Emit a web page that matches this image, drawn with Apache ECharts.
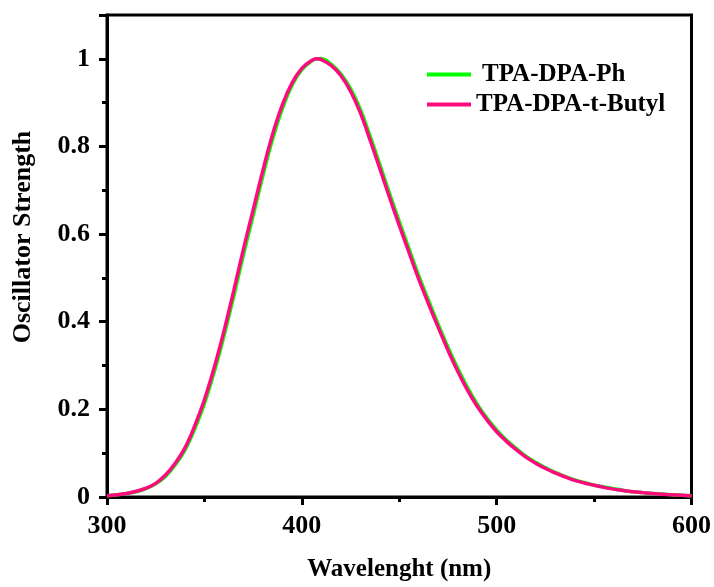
<!DOCTYPE html>
<html>
<head>
<meta charset="utf-8">
<script src="https://cdn.jsdelivr.net/npm/echarts@6/dist/echarts.min.js"></script>
<style>html,body{margin:0;padding:0;background:#fff}#c{width:714px;height:587px}</style>
</head>
<body>
<div id="c"></div>
<script>
var wavelengths = [300,305,310,315,320,325,330,335,340,345,350,355,360,365,370,375,380,385,390,395,400,405,408,410,415,420,425,430,435,440,445,450,455,460,465,470,475,480,485,490,495,500,505,510,515,520,525,530,535,540,545,550,555,560,565,570,575,580,585,590,595,600];
var tpaDpaPh = [0.003,0.005,0.008,0.012,0.019,0.030,0.047,0.073,0.107,0.155,0.213,0.285,0.367,0.457,0.552,0.642,0.733,0.817,0.886,0.940,0.975,0.995,1.0,1.0,0.988,0.966,0.932,0.885,0.824,0.759,0.693,0.629,0.567,0.505,0.449,0.394,0.342,0.294,0.250,0.212,0.180,0.153,0.130,0.111,0.093,0.079,0.067,0.056,0.047,0.039,0.033,0.027,0.023,0.019,0.015,0.012,0.010,0.008,0.007,0.005,0.004,0.003];
var tpaDpaTButyl = [0.003,0.005,0.008,0.013,0.020,0.031,0.050,0.077,0.112,0.162,0.222,0.295,0.378,0.470,0.565,0.655,0.745,0.828,0.895,0.945,0.978,0.996,1.0,0.998,0.985,0.962,0.926,0.877,0.815,0.750,0.684,0.620,0.558,0.497,0.441,0.387,0.335,0.287,0.244,0.207,0.176,0.149,0.127,0.108,0.091,0.077,0.065,0.055,0.046,0.038,0.032,0.027,0.022,0.018,0.015,0.012,0.010,0.008,0.0065,0.005,0.004,0.003];
var seriesNames = ['TPA-DPA-Ph','TPA-DPA-t-Butyl'];
var xTitle = 'Wavelenght (nm)';
var yTitle = 'Oscillator Strength';

function pairs(xs, ys){ return xs.map(function(x,i){ return [x, ys[i]]; }); }

var FONT = '"Liberation Serif","Times New Roman",serif';
var chart = echarts.init(document.getElementById('c'), null, {renderer:'canvas'});
chart.setOption({
  animation:false,
  backgroundColor:'#fff',
  grid:{left:107, right:22, top:15, bottom:87, show:true, borderColor:'#000', borderWidth:3, backgroundColor:'transparent'},
  legend:[
    {data:[seriesNames[0]], left:422, top:57, orient:'vertical', icon:'rect', itemWidth:44, itemHeight:4,
     textStyle:{fontFamily:FONT, fontWeight:'bold', fontSize:25, color:'#000', padding:[0,0,0,6]}},
    {data:[seriesNames[1]], left:422, top:87, orient:'vertical', icon:'rect', itemWidth:44, itemHeight:4,
     textStyle:{fontFamily:FONT, fontWeight:'bold', fontSize:25, color:'#000'}}
  ],
  xAxis:{
    type:'value', min:300, max:600, interval:100,
    name:xTitle, nameLocation:'middle', nameGap:60,
    nameTextStyle:{fontFamily:FONT, fontWeight:'bold', fontSize:25, color:'#000'},
    axisLine:{show:true, onZero:false, lineStyle:{color:'#000', width:3}},
    axisTick:{show:true, inside:false, length:8, lineStyle:{color:'#000', width:3}},
    minorTick:{show:true, splitNumber:2, length:5, lineStyle:{color:'#000', width:3}},
    axisLabel:{margin:16, fontFamily:FONT, fontWeight:'bold', fontSize:26, color:'#000'},
    splitLine:{show:false}
  },
  yAxis:{
    type:'value', min:0, max:1.1, interval:0.2,
    axisLine:{show:true, onZero:false, lineStyle:{color:'#000', width:3}},
    axisTick:{show:true, inside:false, length:8, lineStyle:{color:'#000', width:3}},
    minorTick:{show:true, splitNumber:2, length:5, lineStyle:{color:'#000', width:3}},
    axisLabel:{margin:17, fontFamily:FONT, fontWeight:'bold', fontSize:26, color:'#000', showMaxLabel:false,
      formatter:function(v){ return v>1.05 ? '' : String(+v.toFixed(1)); }},
    splitLine:{show:false}
  },
  graphic:[{
    type:'text', x:23, y:237, rotation:Math.PI/2,
    style:{text:yTitle, fontFamily:FONT, fontWeight:'bold', fontSize:26, fill:'#000', textAlign:'center', textVerticalAlign:'middle'}
  }],
  series:[
    {name:seriesNames[0], type:'line', data:pairs(wavelengths,tpaDpaPh), smooth:0.4, showSymbol:false, symbol:'none',
     itemStyle:{color:'#00ff00'}, lineStyle:{color:'#00ff00', width:3.5}},
    {name:seriesNames[1], type:'line', data:pairs(wavelengths,tpaDpaTButyl), smooth:0.4, showSymbol:false, symbol:'none',
     itemStyle:{color:'#ff0a7e'}, lineStyle:{color:'#ff0a7e', width:3.5}}
  ]
});
</script>
</body>
</html>
